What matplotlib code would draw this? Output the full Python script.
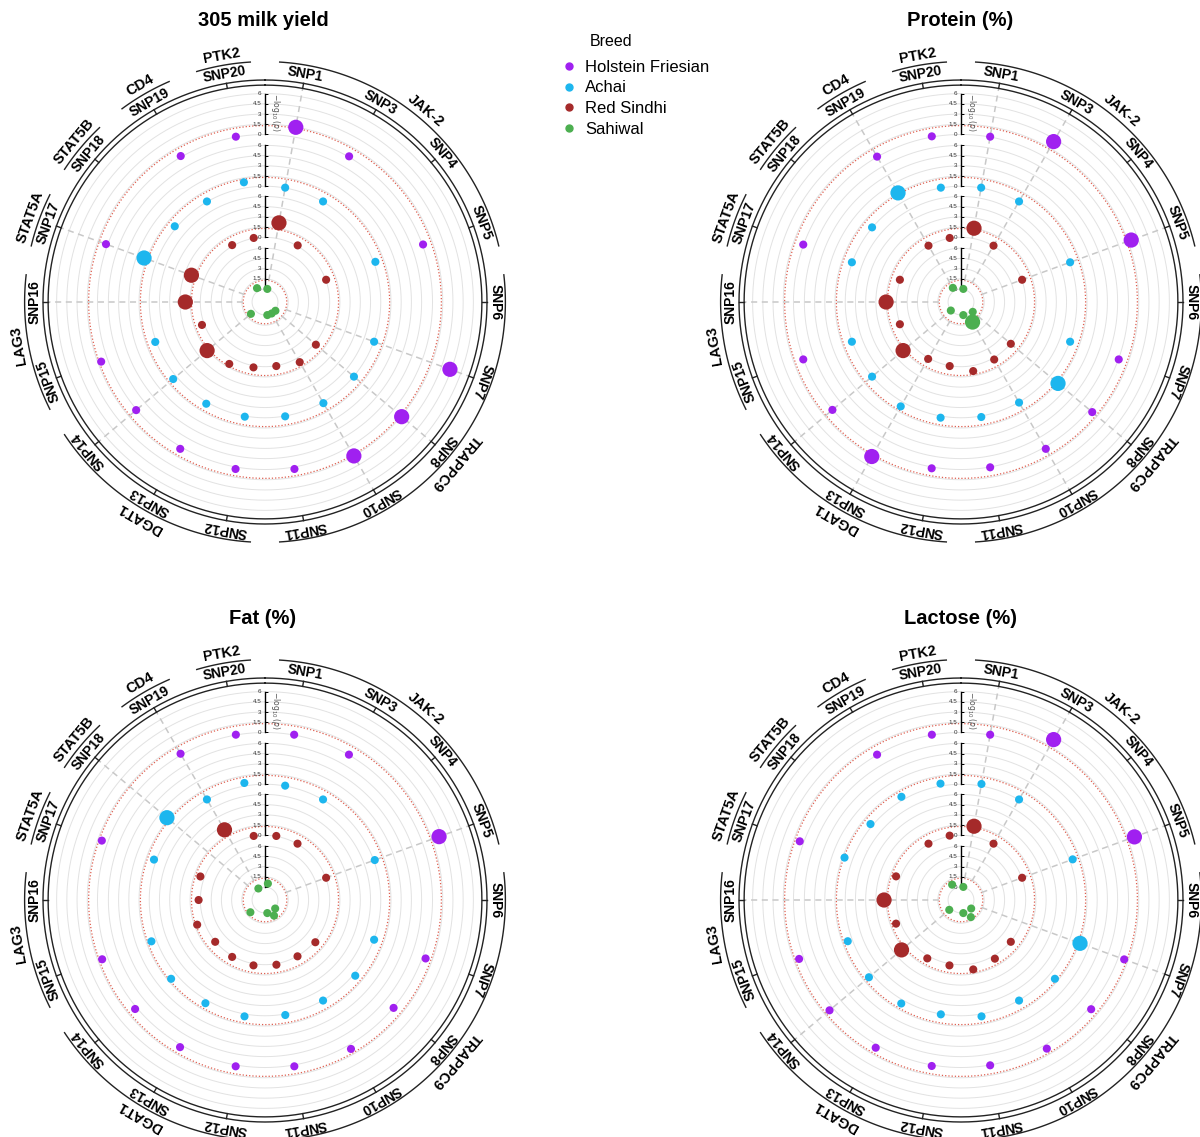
import numpy as np
import matplotlib
matplotlib.use('Agg')
import matplotlib.pyplot as plt
from matplotlib.lines import Line2D
from matplotlib.transforms import ScaledTranslation

plt.rcParams['font.family'] = ['Liberation Sans', 'DejaVu Sans']

# ---------------- data ----------------
snps = ['SNP1', 'SNP3', 'SNP4', 'SNP5', 'SNP6', 'SNP7', 'SNP8', 'SNP10', 'SNP11',
        'SNP12', 'SNP13', 'SNP14', 'SNP15', 'SNP16', 'SNP17', 'SNP18', 'SNP19', 'SNP20']
genes = ['JAK-2', 'TRAPPC9', 'DGAT1', 'LAG3', 'STAT5A', 'STAT5B', 'CD4', 'PTK2']
gene_snps = [['SNP1', 'SNP3', 'SNP4', 'SNP5'],
             ['SNP6', 'SNP7', 'SNP8', 'SNP10', 'SNP11'],
             ['SNP12', 'SNP13', 'SNP14'],
             ['SNP15', 'SNP16'],
             ['SNP17'], ['SNP18'], ['SNP19'], ['SNP20']]
breeds = ['Holstein Friesian', 'Achai', 'Red Sindhi', 'Sahiwal']
breed_colors = ['#A020F0', '#1DB6EE', '#A52A2A', '#4CAF50']
traits = ['305 milk yield', 'Protein (%)', 'Fat (%)', 'Lactose (%)']
axis_ticks = [0, 1.5, 3, 4.5, 6]
axis_ticklabels = ['0', '1.5', '3', '4.5', '6']
threshold = 1.3  # -log10(0.05)

n = np.nan
#            SNP1  SNP3  SNP4 SNP5  SNP6 SNP7  SNP8  SNP10 SNP11 SNP12 SNP13 SNP14 SNP15 SNP16 SNP17 SNP18 SNP19 SNP20
milk_hf  = [1.45, 0.1,  n, 0.1,  n, 4.3,  1.6,  1.5,  0.3,  0.3,  0.3,  0.1,  1.0,  n,    0.25, n,    0.15, 0.05]
milk_ach = [0.05, 0.05, n, 0.25, n, 0.05, 0.05, 0.15, 0.05, 0.1,  0.25, 0.6,  0.15, n,    1.9,  0.3,  0.05, 0.85]
milk_rs  = [2.3,  0.1,  n, 0.05, n, n,    0.25, 0.7,  0.05, 0.25, 1.0,  1.6,  0.35, 2.2,  2.0,  n,    0.15, 0.05]
milk_sah = [0.05, n,    n, n,    n, n,    0.1,  0.05, 0.05, n,    n,    0.8,  n,    n,    n,    n,    0.45, n]

prot_hf  = [0.05, 2.6,  n, 2.0,  n, 0.05, 0.55, 0.3,  0.05, 0.2,  1.6,  0.05, 0.05, n,    0.05, n,    0.05, 0.1]
prot_ach = [0.05, 0.05, n, 0.05, n, 0.05, 1.6,  0.05, 0.15, 0.25, 0.7,  0.05, 0.05, n,    0.05, 0.05, 1.5,  0.05]
prot_rs  = [1.5,  0.05, n, 0.05, n, n,    0.05, 0.25, 0.8,  0.05, 0.15, 1.6,  0.05, 1.5,  0.05, n,    0.05, 0.05]
prot_sah = [0.05, n,    n, n,    n, n,    0.35, 1.5,  0.05, n,    n,    0.05, n,    n,    n,    n,    0.5,  n]

fat_hf   = [0.05, 0.05, n, 2.6,  n, 0.5,  0.05, 0.65, 0.2,  0.2,  0.35, 0.3,  0.85, n,    0.9,  n,    0.2,  0.05]
fat_ach  = [0.05, 0.05, n, 0.15, n, 0.05, 0.3,  0.05, 0.15, 0.35, 0.5,  1.0,  0.75, n,    0.35, 1.8,  0.05, 0.45]
fat_rs   = [0.05, 0.05, n, 0.05, n, n,    0.15, 0.05, 0.15, 0.25, 0.15, 0.05, 1.1,  0.25, 0.6,  n,    2.4,  0.05]
fat_sah  = [0.55, n,    n, n,    n, n,    0.05, 0.75, 0.05, n,    n,    0.9,  n,    n,    n,    n,    0.05, n]

lact_hf  = [0.05, 2.6,  n, 2.5,  n, 0.9,  0.35, 0.6,  0.05, 0.15, 0.45, 0.6,  0.7,  n,    0.6,  n,    0.05, 0.05]
lact_ach = [0.3,  0.05, n, 0.45, n, 1.6,  1.0,  0.05, 0.35, 0.05, 0.55, 0.65, 0.7,  n,    1.2,  0.35, 0.5,  0.35]
lact_rs  = [1.5,  0.05, n, 0.05, n, n,    0.05, 0.45, 0.85, 0.25, 0.4,  1.9,  0.65, 1.8,  0.65, n,    0.05, 0.1]
lact_sah = [0.05, n,    n, n,    n, n,    0.05, 1.0,  0.05, n,    n,    0.35, n,    n,    n,    n,    0.7,  n]

trait_data = [
    [milk_hf, milk_ach, milk_rs, milk_sah],
    [prot_hf, prot_ach, prot_rs, prot_sah],
    [fat_hf, fat_ach, fat_rs, fat_sah],
    [lact_hf, lact_ach, lact_rs, lact_sah],
]

# ---------------- layout ----------------
W, H = 1200, 1137
DPI = 100
fig = plt.figure(figsize=(W / DPI, H / DPI), dpi=DPI)
fig.patch.set_facecolor('white')

ring_base = [24.6, 17.0, 9.5, 1.9]   # HF outermost ... Sahiwal innermost
R_IN, R_OUT = 31.85, 32.6
R_SNP, R_ARC, R_GENE = 33.9, 35.3, 36.7
RPX = 222
centers = [(265, 302), (961, 302), (265, 900), (961, 900)]
title_pos = [(263, 20), (960, 20), (263, 618), (960, 618)]

snp_deg = {s: 10 + 20 * i for i, s in enumerate(snps)}
full = np.linspace(0, 2 * np.pi, 721)


def draw_panel(ax, data):
    ax.set_theta_zero_location('N')
    ax.set_theta_direction(-1)
    ax.set_ylim(0, R_OUT)
    ax.set_xticks([])
    ax.set_yticks([])
    ax.grid(False)
    ax.spines['polar'].set_visible(False)
    ax.set_facecolor('none')

    # grid circles & significance circles
    for b in ring_base:
        for t in axis_ticks:
            ax.plot(full, np.full_like(full, b + t), color='#E2E2E2', lw=0.7, zorder=1)
        ax.plot(full, np.full_like(full, b + threshold), color='#DE5F50', lw=0.9,
                ls=(0, (1, 1.6)), zorder=2)

    arr = np.array(data, dtype=float)
    theta = np.deg2rad([snp_deg[s] for s in snps])

    # spokes at SNPs with at least one significant association
    sig_any = np.nan_to_num(arr, nan=0) > threshold
    for j, s in enumerate(snps):
        if sig_any[:, j].any():
            ax.plot([theta[j], theta[j]], [ring_base[-1] + threshold, R_IN],
                    color='#C8C8C8', lw=1.1, ls=(0, (4, 3)), zorder=2)

    # outer double circle + SNP ticks
    ax.plot(full, np.full_like(full, R_IN), color='#222222', lw=1.0, zorder=3, clip_on=False)
    ax.plot(full, np.full_like(full, R_OUT), color='#222222', lw=1.0, zorder=3, clip_on=False)
    for j, s in enumerate(snps):
        ax.plot([theta[j], theta[j]], [R_IN, R_OUT], color='#222222', lw=1.0, zorder=3,
                clip_on=False)
        ax.text(theta[j], R_SNP, s, rotation=-snp_deg[s], rotation_mode='anchor',
                ha='center', va='center', fontsize=10, fontweight='bold', clip_on=False)

    # gene arcs + labels
    for g, members in zip(genes, gene_snps):
        degs = [snp_deg[m] for m in members]
        a0, a1 = min(degs) - 6.5, max(degs) + 6.5
        arc = np.deg2rad(np.linspace(a0, a1, 100))
        ax.plot(arc, np.full_like(arc, R_ARC), color='#222222', lw=1.0, clip_on=False)
        mid = (min(degs) + max(degs)) / 2
        ax.text(np.deg2rad(mid), R_GENE, g, rotation=-mid, rotation_mode='anchor',
                ha='center', va='center', fontsize=10.5, fontweight='bold', clip_on=False)

    # radial axis segments
    off_l = ax.transData + ScaledTranslation(-2.5 / 72, 0, fig.dpi_scale_trans)
    off_r = ax.transData + ScaledTranslation(3.0 / 72, 0, fig.dpi_scale_trans)
    for k, b in enumerate(ring_base):
        ax.plot([0, 0], [b, b + 6], color='black', lw=1.0, zorder=6)
        ax.plot([0] * len(axis_ticks), [b + t for t in axis_ticks], ls='none', marker=1,
                ms=2.5, mew=0.6, color='black', zorder=6)
        for t, lab in zip(axis_ticks, axis_ticklabels):
            ax.text(0, b + t, lab, transform=off_l, ha='right', va='center',
                    fontsize=4.5, color='#333333', zorder=6)
        if k == 0:
            ax.text(0, b + 3.2, r'$-\log_{10}(p)$', transform=off_r, rotation=270,
                    ha='left', va='center', fontsize=5.5, color='#555555', zorder=6)

    # points
    for k, (vals, col) in enumerate(zip(arr, breed_colors)):
        ok = ~np.isnan(vals)
        sizes = np.where(vals[ok] > threshold, 120, 34)
        ax.scatter(theta[ok], ring_base[k] + vals[ok], s=sizes, color=col,
                   linewidths=0, zorder=7)


for i, (cx, cy) in enumerate(centers):
    ax = fig.add_axes([(cx - RPX) / W, 1 - (cy + RPX) / H, 2 * RPX / W, 2 * RPX / H],
                      projection='polar')
    draw_panel(ax, trait_data[i])
    tx, ty = title_pos[i]
    fig.text(tx / W, 1 - ty / H, traits[i], ha='center', va='center', fontsize=14.5,
             fontweight='bold')

# legend
fig.text(611 / W, 1 - 42 / H, 'Breed', ha='center', va='center', fontsize=11.5)
handles = [Line2D([], [], marker='o', ls='none', color=c, markersize=5) for c in breed_colors]
fig.legend(handles, breeds, loc='upper left', bbox_to_anchor=(561 / W, 1 - 60 / H),
           frameon=False, fontsize=12, handlelength=1.0, handletextpad=0.45,
           labelspacing=0.33, borderpad=0, borderaxespad=0)

fig.savefig('out.png', dpi=DPI, facecolor='white')
